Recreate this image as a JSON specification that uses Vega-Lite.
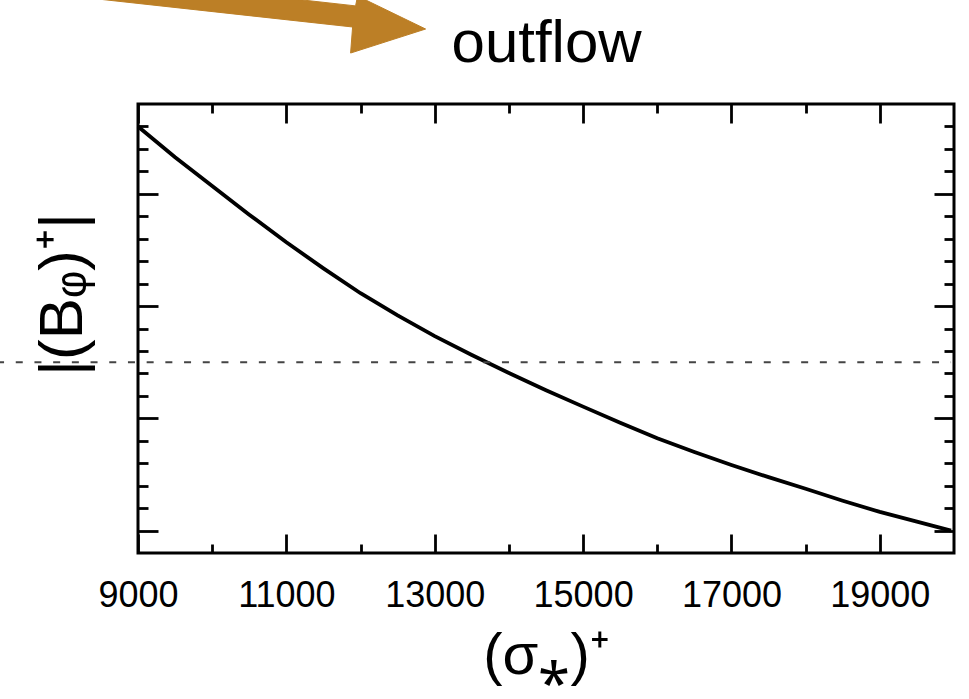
{
  "$schema": "https://vega.github.io/schema/vega-lite/v6.json",
  "width": 816,
  "height": 449,
  "autosize": {"type": "none"},
  "padding": {"left": 138, "top": 104, "right": 15, "bottom": 146},
  "config": {"view": {"stroke": "#000", "strokeWidth": 3}, "font": "Liberation Sans"},
  "datasets": {
    "curve": [
      {"s": 9000, "b": 18.0}, {"s": 9500, "b": 16.63}, {"s": 10000, "b": 15.35}, {"s": 10500, "b": 14.07},
      {"s": 11000, "b": 12.84}, {"s": 11500, "b": 11.68}, {"s": 12000, "b": 10.57}, {"s": 12500, "b": 9.58},
      {"s": 13000, "b": 8.66}, {"s": 13500, "b": 7.82}, {"s": 14000, "b": 7.02}, {"s": 14500, "b": 6.25},
      {"s": 15000, "b": 5.52}, {"s": 15500, "b": 4.8}, {"s": 16000, "b": 4.11}, {"s": 16500, "b": 3.5},
      {"s": 17000, "b": 2.92}, {"s": 17500, "b": 2.38}, {"s": 18000, "b": 1.86}, {"s": 18500, "b": 1.33},
      {"s": 19000, "b": 0.83}, {"s": 19500, "b": 0.4}, {"s": 19960, "b": 0.0}
    ],
    "ref": [{"x": 7100, "x2": 19960, "y": 7.5}],
    "arrow": [
      {"i": 1, "x": 6743, "y": 25.28}, {"i": 2, "x": 11933, "y": 23.37}, {"i": 3, "x": 11960, "y": 23.81},
      {"i": 4, "x": 12877, "y": 22.34}, {"i": 5, "x": 11866, "y": 21.27}, {"i": 6, "x": 11893, "y": 22.43},
      {"i": 7, "x": 6743, "y": 24.30}, {"i": 8, "x": 6743, "y": 25.28}
    ],
    "note": [{"x": 14508, "y": 20.87, "label": "outflow"}]
  },
  "layer": [
    {
      "data": {"name": "curve"},
      "mark": {"type": "line", "color": "#000", "strokeWidth": 3.8},
      "encoding": {
        "x": {
          "field": "s", "type": "quantitative",
          "scale": {"domain": [9000, 20000], "nice": false, "zero": false},
          "axis": {
            "orient": "bottom",
            "values": [9000, 10000, 11000, 12000, 13000, 14000, 15000, 16000, 17000, 18000, 19000],
            "domain": false, "grid": false, "format": "d",
            "labelExpr": "(datum.value/1000)%2==1 ? datum.label : ''",
            "labelFontSize": 36, "labelColor": "#000", "labelFont": "Liberation Sans",
            "labelPadding": 44, "labelFlush": false, "labelOverlap": false, "labelBound": false,
            "tickColor": "#000", "tickWidth": 2.8,
            "tickSize": {"condition": {"test": "(datum.value/1000)%2==1", "value": -19}, "value": -9},
            "title": "(σ⁎)⁺", "titleFontSize": 58, "titleFontWeight": "normal", "titleColor": "#000",
            "titleFont": "Liberation Sans", "titlePadding": 4
          }
        },
        "y": {
          "field": "b", "type": "quantitative",
          "scale": {"domain": [-1, 19], "nice": false, "zero": false},
          "axis": {
            "orient": "left",
            "values": [0, 1, 2, 3, 4, 5, 6, 7, 8, 9, 10, 11, 12, 13, 14, 15, 16, 17, 18],
            "domain": false, "grid": false, "labels": false,
            "tickColor": "#000", "tickWidth": 2.8,
            "tickSize": {"condition": {"test": "datum.value%5==0", "value": -20}, "value": -10},
            "title": "|(Bᵩ)⁺|", "titleFontSize": 62, "titleFontWeight": "normal", "titleColor": "#000",
            "titleFont": "Liberation Sans", "titleY": 190, "titlePadding": 42
          }
        }
      }
    },
    {
      "data": {"name": "ref"},
      "mark": {"type": "rule", "color": "#444", "strokeWidth": 2, "strokeDash": [7, 11.7]},
      "encoding": {
        "x": {
          "field": "x", "type": "quantitative",
          "axis": {
            "orient": "top",
            "values": [9000, 10000, 11000, 12000, 13000, 14000, 15000, 16000, 17000, 18000, 19000],
            "domain": false, "grid": false, "labels": false, "title": null,
            "tickColor": "#000", "tickWidth": 2.8,
            "tickSize": {"condition": {"test": "(datum.value/1000)%2==1", "value": -19}, "value": -9}
          }
        },
        "x2": {"field": "x2"},
        "y": {
          "field": "y", "type": "quantitative",
          "axis": {
            "orient": "right",
            "values": [0, 1, 2, 3, 4, 5, 6, 7, 8, 9, 10, 11, 12, 13, 14, 15, 16, 17, 18],
            "domain": false, "grid": false, "labels": false, "title": null,
            "tickColor": "#000", "tickWidth": 2.8,
            "tickSize": {"condition": {"test": "datum.value%5==0", "value": -20}, "value": -10}
          }
        }
      }
    },
    {
      "data": {"name": "arrow"},
      "mark": {"type": "line", "fill": "#bc7f26", "stroke": "#bc7f26", "strokeWidth": 1},
      "encoding": {
        "x": {"field": "x", "type": "quantitative", "axis": null},
        "y": {"field": "y", "type": "quantitative", "axis": null},
        "order": {"field": "i", "type": "quantitative"}
      }
    },
    {
      "data": {"name": "note"},
      "mark": {"type": "text", "font": "Liberation Sans", "fontSize": 60, "color": "#000", "align": "center", "baseline": "alphabetic"},
      "encoding": {
        "x": {"field": "x", "type": "quantitative", "axis": null},
        "y": {"field": "y", "type": "quantitative", "axis": null},
        "text": {"field": "label"}
      }
    }
  ],
  "resolve": {"axis": {"x": "independent", "y": "independent"}}
}
